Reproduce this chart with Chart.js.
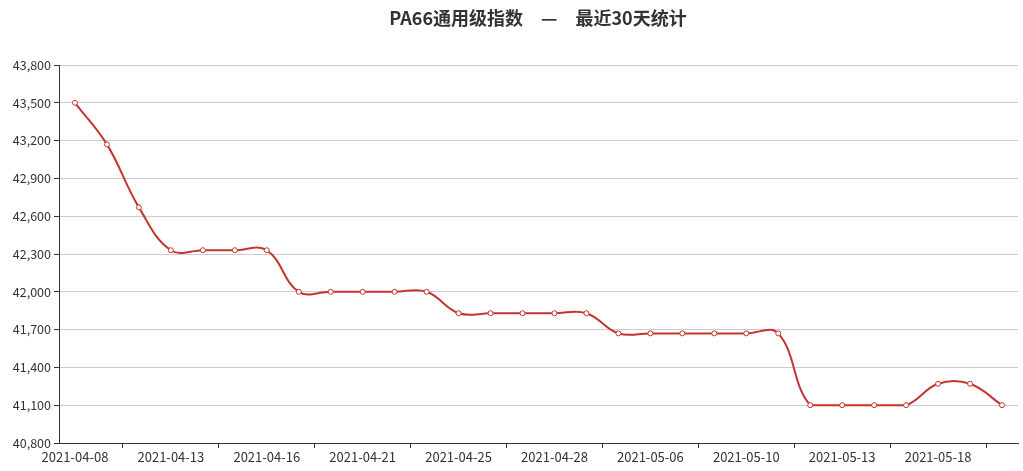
<!DOCTYPE html>
<html>
<head>
<meta charset="utf-8">
<script src="https://cdn.jsdelivr.net/npm/chart.js@4/dist/chart.umd.min.js"></script>
<style>
  html,body{margin:0;padding:0;background:#fff;}
  #wrap{width:1023px;height:471px;}
</style>
</head>
<body>
<div id="wrap"><canvas id="pa66Chart" width="1023" height="471"></canvas></div>
<script>
// PA66 通用级指数 - 最近30天
const dates = ['2021-04-08','2021-04-09','2021-04-12','2021-04-13','2021-04-14','2021-04-15','2021-04-16','2021-04-19','2021-04-20','2021-04-21',
  '2021-04-22','2021-04-23','2021-04-25','2021-04-26','2021-04-27','2021-04-28','2021-04-29','2021-04-30','2021-05-06','2021-05-07',
  '2021-05-08','2021-05-10','2021-05-11','2021-05-12','2021-05-13','2021-05-14','2021-05-17','2021-05-18','2021-05-19','2021-05-20'];
const prices = [43500,43170,42670,42330,42330,42330,42330,42000,42000,42000,
  42000,42000,41830,41830,41830,41830,41830,41670,41670,41670,
  41670,41670,41670,41100,41100,41100,41100,41270,41270,41100];
const yTicks = {min:40800,max:43800,step:300};
const titleText = 'PA66通用级指数　—　最近30天统计';

const RED='#c23531', AXIS='#333', GRID='#ccc';
const FONT='"Noto Sans CJK SC","Noto Sans",sans-serif';

// keep the smoothed curve inside the data's own min/max (no dip below the lowest price)
const clampCurve={id:'clampCurve',beforeDatasetDraw(chart,args){
  const line=args.meta.dataset, ys=chart.scales.y, ca=chart.chartArea;
  const area={left:ca.left,right:ca.right,top:ys.getPixelForValue(Math.max(...prices)),bottom:ys.getPixelForValue(Math.min(...prices))};
  line._pointsUpdated=false;
  line.updateControlPoints(area,'x');
}};

const titleDraw={id:'titleDraw',afterDraw(chart){
  const ctx=chart.ctx; ctx.save();
  ctx.font='bold 18px '+FONT; ctx.fillStyle='#333'; ctx.textAlign='center'; ctx.textBaseline='middle';
  ctx.fillText(titleText,538,18); ctx.restore();
}};

new Chart(document.getElementById('pa66Chart').getContext('2d'),{
  type:'line',
  data:{labels:dates,datasets:[{label:'PA66',data:prices,borderColor:RED,borderWidth:2,tension:0.4,
    pointRadius:2.5,pointBorderWidth:1,pointBackgroundColor:'#fff',pointBorderColor:RED,fill:false,clip:false}]},
  plugins:[clampCurve,titleDraw],
  options:{
    responsive:false,animation:false,
    layout:{padding:{left:0,right:4,top:65,bottom:0}},
    plugins:{legend:{display:false},tooltip:{enabled:false},title:{display:false}},
    scales:{
      x:{
        offset:true,
        border:{color:AXIS,width:1},
        grid:{offset:true,drawOnChartArea:false,drawTicks:true,tickLength:5,
          color:c=>(c.index%3===2&&c.index<dates.length)?AXIS:'rgba(0,0,0,0)'},
        ticks:{autoSkip:false,maxRotation:0,color:'#333',font:{family:FONT,size:13},padding:1,
          callback:(v,i)=>i%3===0?dates[i]:''},
        afterFit:s=>{s.height=28;}
      },
      y:{
        min:yTicks.min,max:yTicks.max,
        border:{color:AXIS,width:1},
        grid:{color:GRID,tickColor:AXIS,tickLength:5},
        ticks:{stepSize:yTicks.step,color:'#333',font:{family:FONT,size:12.5},padding:3},
        afterFit:s=>{s.width=59;}
      }
    }
  }
});
</script>
</body>
</html>
